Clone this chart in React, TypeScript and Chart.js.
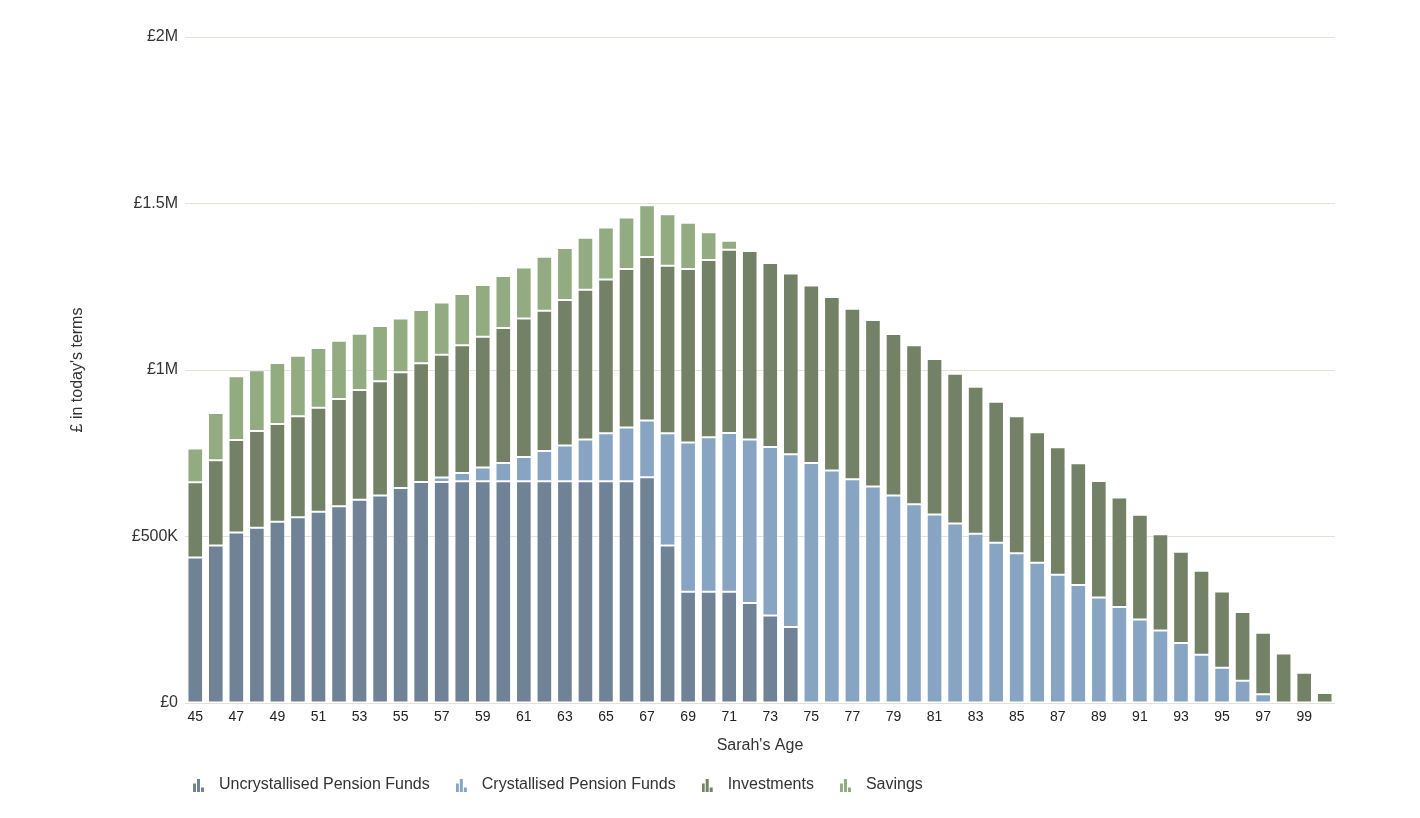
import React, { useEffect, useRef } from 'react';
import { Chart, registerables } from 'chart.js';

Chart.register(...registerables);

// Sarah's age (categories)
const ages = [
  '45', '46', '47', '48', '49', '50', '51', '52', '53', '54',
  '55', '56', '57', '58', '59', '60', '61', '62', '63', '64',
  '65', '66', '67', '68', '69', '70', '71', '72', '73', '74',
  '75', '76', '77', '78', '79', '80', '81', '82', '83', '84',
  '85', '86', '87', '88', '89', '90', '91', '92', '93', '94',
  '95', '96', '97', '98', '99', '100',
];

// values in £ thousands
const uncrystallised = [
  437, 473, 512, 526, 544, 558, 574, 591, 610, 623,
  646, 664, 664, 666, 666, 666, 666, 666, 666, 666,
  666, 666, 678, 473, 334, 334, 334, 300, 263, 228,
  0, 0, 0, 0, 0, 0, 0, 0, 0, 0,
  0, 0, 0, 0, 0, 0, 0, 0, 0, 0,
  0, 0, 0, 0, 0, 0,
];

const crystallised = [
  0, 0, 0, 0, 0, 0, 0, 0, 0, 0,
  0, 0, 13, 25, 41, 55, 73, 91, 107, 125,
  144, 161, 170, 337, 448, 464, 477, 491, 506, 519,
  721, 698, 672, 650, 623, 597, 566, 539, 508, 481,
  450, 421, 385, 354, 317, 288, 251, 218, 180, 145,
  106, 67, 26, 0, 0, 0,
];

const investments = [
  226, 256, 278, 291, 294, 303, 313, 322, 330, 343,
  347, 356, 369, 383, 393, 405, 416, 421, 437, 450,
  462, 476, 491, 503, 521, 532, 550, 566, 552, 543,
  533, 521, 512, 500, 485, 477, 467, 450, 442, 424,
  411, 392, 383, 366, 350, 329, 314, 289, 274, 252,
  229, 206, 185, 149, 91, 30,
];

const savings = [
  101, 142, 191, 182, 183, 182, 179, 175, 169, 166,
  162, 160, 157, 154, 155, 156, 153, 162, 156, 156,
  156, 155, 156, 155, 139, 84, 27, 0, 0, 0,
  0, 0, 0, 0, 0, 0, 0, 0, 0, 0,
  0, 0, 0, 0, 0, 0, 0, 0, 0, 0,
  0, 0, 0, 0, 0, 0,
];

const seriesNames = [
  'Uncrystallised Pension Funds',
  'Crystallised Pension Funds',
  'Investments',
  'Savings',
];
const seriesColors = ['#708296', '#87a5c2', '#738266', '#92ab80'];

const yTickValues = [0, 500, 1000, 1500, 2000];
const yTickLabels = ['£0', '£500K', '£1M', '£1.5M', '£2M'];

const FONT = "'Liberation Sans', Arial, sans-serif";

function makeIcon(color: string): HTMLCanvasElement {
  const c = document.createElement('canvas');
  c.width = 12;
  c.height = 13;
  const g = c.getContext('2d')!;
  g.fillStyle = color;
  g.fillRect(0, 5, 3, 8);
  g.fillRect(4, 0, 3, 13);
  g.fillRect(8, 9, 3, 4);
  return c;
}

export default function App() {
  const ref = useRef<HTMLCanvasElement>(null);

  useEffect(() => {
    const canvas = ref.current;
    if (!canvas) return;
    Chart.defaults.font.family = FONT;
    const icons = seriesColors.map(makeIcon);
    const allSeries = [uncrystallised, crystallised, investments, savings];

    const legendShift = {
      id: 'legendShift',
      afterLayout(chart: any) {
        const l = chart.legend;
        if (l) {
          l.left -= 18;
          l.right -= 18;
        }
      },
    };

    const chart = new Chart(canvas, {
      type: 'bar',
      data: {
        labels: ages,
        datasets: allSeries.map((d, i) => ({
          label: seriesNames[i],
          data: d,
          backgroundColor: seriesColors[i],
          borderColor: 'rgba(255,255,255,0.4)',
          borderWidth: (ctx: any) => (ctx.raw ? 1 : 0),
          borderSkipped: false,
          barPercentage: 0.76,
          categoryPercentage: 1,
        })),
      },
      plugins: [legendShift],
      options: {
        animation: false,
        responsive: true,
        maintainAspectRatio: false,
        layout: { padding: { left: 0, right: 77, top: 29, bottom: 5 } },
        plugins: {
          tooltip: { enabled: false },
          legend: {
            display: true,
            position: 'bottom',
            align: 'start',
            fullSize: false,
            labels: {
              usePointStyle: true,
              pointStyleWidth: 24,
              padding: 20,
              color: '#333',
              font: { size: 16, family: FONT },
              generateLabels: (ch: any) => {
                const items = (Chart.defaults.plugins.legend.labels as any).generateLabels(ch);
                return items.map((it: any, i: number) => ({
                  ...it,
                  pointStyle: icons[i],
                  fontColor: '#333',
                  lineWidth: 0,
                  strokeStyle: 'rgba(0,0,0,0)',
                }));
              },
            },
          },
        },
        scales: {
          x: {
            stacked: true,
            grid: { display: false, drawTicks: false },
            border: { display: false },
            ticks: {
              autoSkip: false,
              maxRotation: 0,
              minRotation: 0,
              padding: 6,
              color: '#222',
              font: { size: 14, family: FONT },
              callback: (_v: any, i: number) => (i % 2 === 0 ? ages[i] : ''),
            },
            title: {
              display: true,
              text: "Sarah's Age",
              color: '#333',
              font: { size: 16, family: FONT },
              padding: { top: 4, bottom: 2 },
            },
            afterFit: (s: any) => {
              s.height = 54;
            },
          },
          y: {
            stacked: true,
            min: 0,
            max: 2000,
            grid: { color: '#e4e1d6', drawTicks: false, lineWidth: 1 },
            border: { display: false },
            ticks: {
              stepSize: 500,
              padding: 7,
              color: '#333',
              font: { size: 16, family: FONT },
              callback: (v: any) => {
                const idx = yTickValues.indexOf(Number(v));
                return idx >= 0 ? yTickLabels[idx] : '';
              },
            },
            title: {
              display: true,
              text: "£ in today's terms",
              color: '#333',
              font: { size: 16, family: FONT },
              padding: { top: 60, bottom: 0 },
            },
            afterFit: (s: any) => {
              s.width = 177;
            },
          },
        },
      },
    });

    return () => chart.destroy();
  }, []);

  return (
    <div style={{ width: 1404, height: 800, position: 'relative' }}>
      <canvas ref={ref} />
    </div>
  );
}
